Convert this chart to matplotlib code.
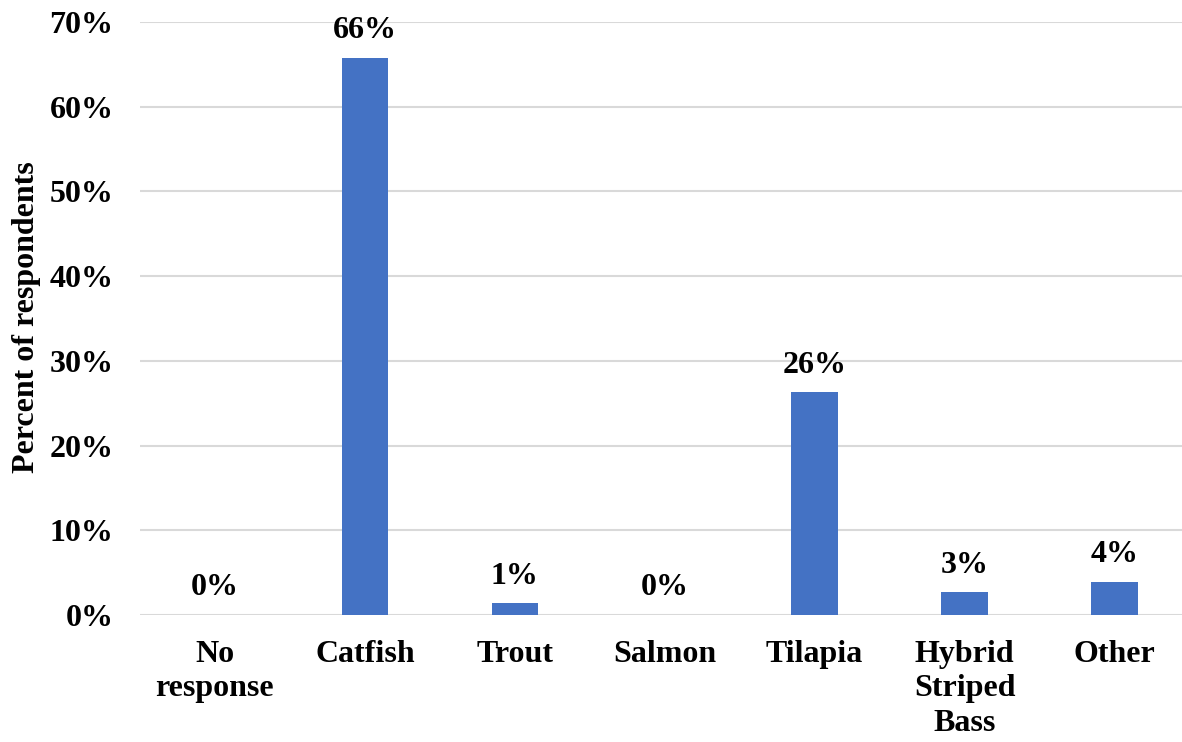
import matplotlib
matplotlib.use("Agg")
import matplotlib.pyplot as plt
import numpy as np

# Species currently raised, share of respondents (%)
species = ["No\nresponse", "Catfish", "Trout", "Salmon", "Tilapia", "Hybrid\nStriped\nBass", "Other"]
percent = [0.0, 65.8, 1.4, 0.0, 26.3, 2.7, 3.9]
y_ticks = [0, 10, 20, 30, 40, 50, 60, 70]

plt.rcParams["font.family"] = ["Liberation Serif", "DejaVu Serif"]
plt.rcParams["font.weight"] = "bold"

fig = plt.figure(figsize=(11.82, 7.42), dpi=100)
ax = fig.add_axes([0.1184, 0.1712, 0.8816, 0.7992])

x = np.arange(len(species))
bars = ax.bar(x, percent, width=0.31, color="#4472C4", zorder=3)

for xi, v in zip(x, percent):
    ax.annotate(f"{v:.0f}%", (xi, v), xytext=(0, 9), textcoords="offset points",
                ha="center", va="bottom", fontsize=23, fontweight="bold")

ax.set_xlim(-0.5, 6.45)
ax.set_ylim(0, 70)
ax.set_yticks(y_ticks)
ax.set_yticklabels([f"{t}%" for t in y_ticks], fontsize=23, fontweight="bold")
ax.set_xticks(x)
ax.set_xticklabels(species, fontsize=23, fontweight="bold", linespacing=1.25, va="top")
ax.tick_params(axis="both", length=0)
ax.tick_params(axis="x", pad=18)
ax.tick_params(axis="y", pad=19)
ax.yaxis.grid(True, color="#D9D9D9", linewidth=1.5, zorder=0)
for s in ax.spines.values():
    s.set_visible(False)

# y-axis title placed in figure coords so it sits flush at the left edge
fig.text(27 / 1182, 0.573, "Percent of respondents", rotation=90,
         ha="center", va="center", fontsize=23, fontweight="bold")

fig.savefig("out.png", dpi=100)
